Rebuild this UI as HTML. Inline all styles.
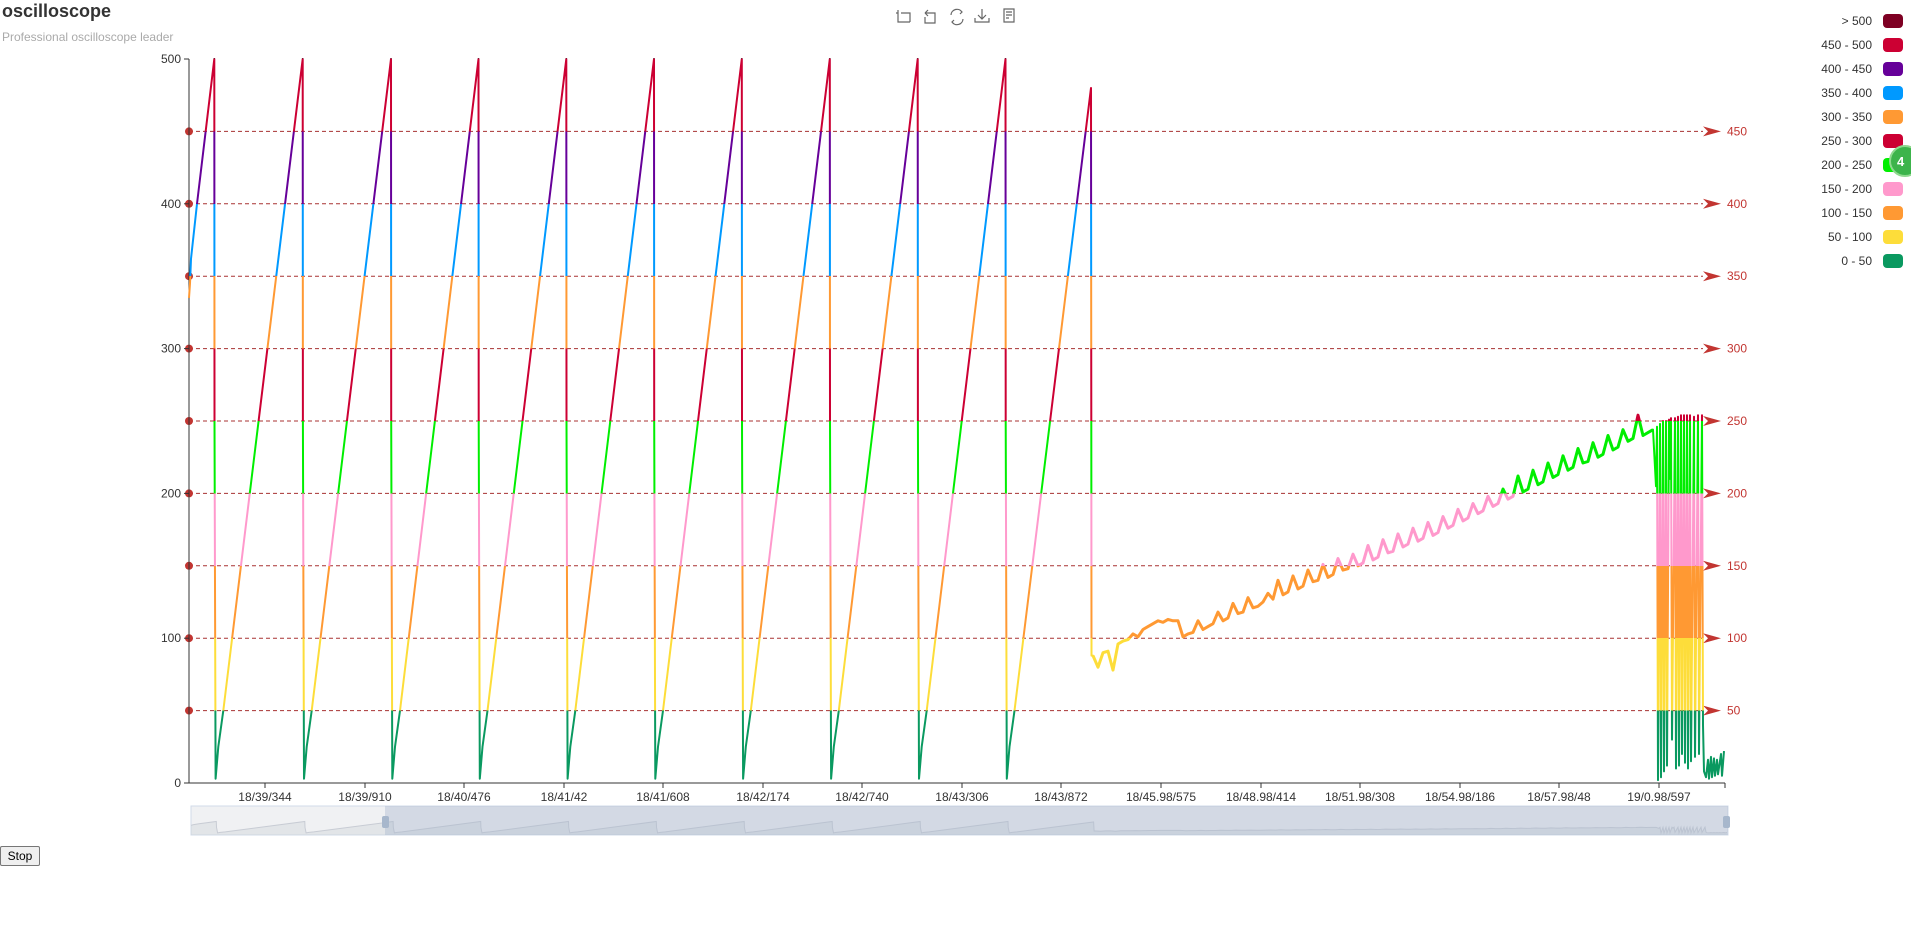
<!DOCTYPE html>
<html><head><meta charset="utf-8"><style>
html,body{margin:0;padding:0;background:#fff;width:1911px;height:929px;overflow:hidden;font-family:"Liberation Sans",sans-serif}
#title{position:absolute;left:2px;top:1px;font-size:18px;font-weight:bold;color:#333}
#sub{position:absolute;left:2px;top:30px;font-size:12px;color:#aaa}
#stop{position:absolute;left:0;top:846px;height:20px;width:40px;font-size:12px;font-family:"Liberation Sans",sans-serif;border:1px solid #767676;background:#efefef;padding:0;border-radius:2px}
</style></head><body>
<div id="title">oscilloscope</div>
<div id="sub">Professional oscilloscope leader</div>
<button id="stop">Stop</button>
<svg id="chart" width="1911" height="929" style="position:absolute;left:0;top:0" xmlns="http://www.w3.org/2000/svg">
<defs>
<linearGradient id="vm" gradientUnits="userSpaceOnUse" x1="0" y1="783" x2="0" y2="59">
<stop offset="0" stop-color="#0a9960"/><stop offset="0.1" stop-color="#0a9960"/>
<stop offset="0.1" stop-color="#fddd3a"/><stop offset="0.2" stop-color="#fddd3a"/>
<stop offset="0.2" stop-color="#ff9933"/><stop offset="0.3" stop-color="#ff9933"/>
<stop offset="0.3" stop-color="#ff99cc"/><stop offset="0.4" stop-color="#ff99cc"/>
<stop offset="0.4" stop-color="#00ee00"/><stop offset="0.5" stop-color="#00ee00"/>
<stop offset="0.5" stop-color="#cc0033"/><stop offset="0.6" stop-color="#cc0033"/>
<stop offset="0.6" stop-color="#ff9933"/><stop offset="0.7" stop-color="#ff9933"/>
<stop offset="0.7" stop-color="#0099ff"/><stop offset="0.8" stop-color="#0099ff"/>
<stop offset="0.8" stop-color="#660099"/><stop offset="0.9" stop-color="#660099"/>
<stop offset="0.9" stop-color="#cc0033"/><stop offset="1" stop-color="#cc0033"/>
<stop offset="1" stop-color="#7e0023"/>
</linearGradient>
</defs>
<g id="toolbar" fill="none" stroke="#666" stroke-width="1.2">
<g><path d="M898 10v12h12M901 13h9v9M896 13h2"/></g>
<g><path d="M925 13h10v10h-10v-6M925 13l3-3M925 13l3 3"/></g>
<g><path d="M951 15a6 6 0 0 1 11-3M963 19a6 6 0 0 1-11 3M960 10l2 2-2 2M954 24l-2-2 2-2"/></g>
<g><path d="M982 9v10M978 15l4 4 4-4M975 18v4h14v-4"/></g>
<g><path d="M1004 9h10v13h-10zM1006 12h6M1006 15h6M1006 18h3"/></g>
</g>
<g id="legend"></g>
<circle cx="1905" cy="161" r="15" fill="#3cb44b" stroke="#8fd98f" stroke-width="2"/>
<text x="1897" y="166" font-size="13" fill="#fff" font-weight="bold">4</text>
<g id="grid"></g>
<g id="axes"></g>
<path id="line" fill="none" stroke="url(#vm)" stroke-width="2" stroke-linejoin="round"/>
<path id="ramp" fill="none" stroke="url(#vm)" stroke-width="3" stroke-linejoin="round"/>
<g id="zoom"></g>
</svg>
<script>
// ---- data ----
const tickLabels=["18/39/344","18/39/910","18/40/476","18/41/42","18/41/608","18/42/174","18/42/740","18/43/306","18/43/872","18/45.98/575","18/48.98/414","18/51.98/308","18/54.98/186","18/57.98/48","19/0.98/597"];
const tickTimes=[76,176,275,375,474,574,673,773,872,972,1072,1171,1271,1370,1470];
const yTicks=[0,100,200,300,400,500];
const markValues=[50,100,150,200,250,300,350,400,450];
const legendLabels=["> 500","450 - 500","400 - 450","350 - 400","300 - 350","250 - 300","200 - 250","150 - 200","100 - 150","50 - 100","0 - 50"];
const legendColors=["#7e0023","#cc0033","#660099","#0099ff","#ff9933","#cc0033","#00ee00","#ff99cc","#ff9933","#fddd3a","#0a9960"];
const cyclePeaks=[25.3,113.7,202,289.5,377.3,465,552.8,640.8,728.7,816.5];
const lastPeakTime=902, lastPeakValue=480;
const startTimes=[0,1,2,8];
const startValues=[335,345,362,400];
const rampStart=904, rampStep=5;
const rampValues=[88,80,90,91,78,96,98,99,103,101,106,108,110,112,111,113,112,112,101,103,104,112,106,108,110,118,112,114,124,117,118,128,121,122,125,131,127,140,130,132,143,134,136,147,139,140,151,142,144,155,147,148,158,150,152,164,154,156,168,159,160,172,163,165,176,167,169,180,171,173,184,176,178,189,181,183,193,186,188,198,191,193,203,196,198,212,201,203,216,206,208,221,211,213,226,216,218,231,221,222,235,225,227,240,230,232,244,236,238,254,240,242,244];
const tailTimes=[1467,1468,1469,1471,1472,1474,1475,1477,1478,1480,1481,1482,1483,1486,1487,1489,1490,1492,1493,1495,1496,1498,1499,1501,1502,1505,1506,1509,1510,1513,1514,1515,1517,1519,1520,1522,1523,1525,1526,1528,1529,1532,1533,1535];
const tailValues=[205,246,2,248,4,250,8,250,12,251,210,252,30,252,10,253,12,254,20,254,14,254,10,254,15,253,18,254,20,254,40,8,4,16,3,18,4,17,5,16,6,20,5,22];
// ---- scales ----
const X0=189,X1=1725,Y0=783,Y1=59,TMAX=1536;
const xs=t=>X0+t*(X1-X0)/TMAX;
const ys=v=>Y0-v*(Y0-Y1)/500;
const NS="http://www.w3.org/2000/svg";
function mk(tag,parent,attrs){const e=document.createElementNS(NS,tag);for(const k in attrs)e.setAttribute(k,attrs[k]);parent.appendChild(e);return e;}
const T=[],V=[];
startTimes.forEach((t,i)=>{T.push(t);V.push(startValues[i]);});
cyclePeaks.forEach(p=>{T.push(p);V.push(500);T.push(p+0.2);V.push(250);T.push(p+1.3);V.push(3);T.push(p+4);V.push(25);T.push(p+9);V.push(50);});
T.push(lastPeakTime);V.push(lastPeakValue);
T.push(lastPeakTime+0.5);V.push(rampValues[0]);
const RT=[],RV=[];
rampValues.forEach((v,i)=>{T.push(rampStart+i*rampStep);V.push(v);RT.push(rampStart+i*rampStep);RV.push(v);});
tailTimes.forEach((t,i)=>{T.push(t);V.push(tailValues[i]);});
const pth=(A,B)=>A.map((t,i)=>(i?'L':'M')+xs(t).toFixed(1)+' '+ys(B[i]).toFixed(1)).join('');
document.getElementById('line').setAttribute('d',pth(T,V));
document.getElementById('ramp').setAttribute('d',pth(RT,RV));
// grid / mark lines
const grid=document.getElementById('grid');
markValues.forEach(v=>{
 const y=ys(v);
 const l=mk('line',grid,{x1:X0,x2:1703,y1:y,y2:y,stroke:'#a83232','stroke-width':1,'stroke-dasharray':'4,3'});
 
 
 const a=mk('path',grid,{d:`M1703 ${y-5}L1721 ${y}L1703 ${y+5}L1708 ${y}Z`,fill:'#c23531'});
 
 
 const c=mk('circle',grid,{cx:X0,cy:y,r:4,fill:'#c23531'});
 
 
 const tx=mk('text',grid,{x:1727,y:y+4,'font-size':12,fill:'#c23531'});
 tx.textContent=v;
 
 
});
// axes
const ax=document.getElementById('axes');
const yl=mk('line',ax,{x1:X0,x2:X0,y1:Y1,y2:Y0,stroke:'#333'});


yTicks.forEach(v=>{
 mk('line',ax,{x1:X0-5,x2:X0,y1:ys(v),y2:ys(v),stroke:'#333'});
 const t=mk('text',ax,{x:X0-8,y:ys(v)+4,'font-size':12,fill:'#333','text-anchor':'end'});
 t.textContent=v;
 
 
});
const xl=mk('line',ax,{x1:X0,x2:X1,y1:Y0,y2:Y0,stroke:'#333'});


mk('line',ax,{x1:X1,x2:X1,y1:Y0,y2:Y0+5,stroke:'#333'});
tickTimes.forEach((t,i)=>{
 const x=xs(t);
 mk('line',ax,{x1:x,x2:x,y1:Y0,y2:Y0+5,stroke:'#333'});
 const tx=mk('text',ax,{x:x,y:Y0+18,'font-size':12,fill:'#333','text-anchor':'middle'});
 tx.textContent=tickLabels[i];
 
 
});
// legend
const lg=document.getElementById('legend');
legendLabels.forEach((s,i)=>{
 const y=21+i*24;
 const t=mk('text',lg,{x:1872,y:y+4,'font-size':12,fill:'#333','text-anchor':'end'});
 t.textContent=s;
 
 
 const r=mk('rect',lg,{x:1883,y:y-7,width:20,height:14,rx:4,fill:legendColors[i]});
 
 
});
// data zoom slider
const z=document.getElementById('zoom');
const ZX0=191,ZX1=1728,ZY0=806,ZY1=835,SEL=385;
const bg=mk('rect',z,{x:ZX0,y:ZY0,width:ZX1-ZX0,height:ZY1-ZY0,fill:'#f0f1f3',stroke:'#d2dbe8'});


const zs=t=>ZX0+t*(ZX1-ZX0)/TMAX, zv=v=>ZY1-2-v*(ZY1-ZY0-6)/500;
const sh=T.map((t,i)=>(i?'L':'M')+zs(t).toFixed(1)+' '+zv(V[i]*0.5).toFixed(1)).join('');
mk('path',z,{d:sh+`L${zs(T[T.length-1])} ${ZY1}L${ZX0} ${ZY1}Z`,fill:'rgba(200,205,212,0.35)',stroke:'none'});
mk('path',z,{d:sh,fill:'none',stroke:'#c8ccd4','stroke-width':1});
const sel=mk('rect',z,{x:SEL,y:ZY0,width:ZX1-SEL,height:ZY1-ZY0,fill:'rgba(167,183,204,0.4)'});


[SEL,ZX1-2].forEach(x=>{
 const h=mk('rect',z,{x:x-3,y:ZY0+10,width:7,height:12,rx:2,fill:'#a7b7cc'});
 
 
});
</script>
</body></html>
